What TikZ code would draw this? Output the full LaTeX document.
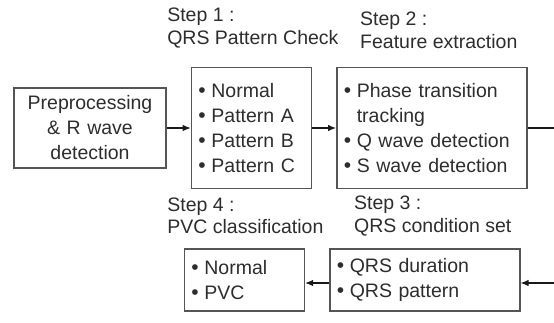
\documentclass[tikz,border=0pt]{standalone}
\usepackage{fontspec}
\setmainfont{Liberation Sans}
\usetikzlibrary{positioning, arrows.meta}
\definecolor{boxline}{RGB}{85,85,85}
\definecolor{arrowline}{RGB}{25,25,25}
\definecolor{txt}{RGB}{45,45,45}
\newcommand{\blt}{\makebox[13pt][l]{\fontsize{21}{21}\selectfont\textbullet}}
\newcommand{\hang}{\hspace*{13pt}}

\begin{document}
\begin{tikzpicture}[
    x=1pt, y=-1pt,
    box/.style={draw=boxline, line width=1.4pt, inner xsep=7pt, inner ysep=0pt, align=left, text=txt, font=\fontsize{19.5}{25}\selectfont},
    boxnarrow/.style={box, text width=106pt},
    boxwide/.style={box, text width=176pt},
    steplabel/.style={align=left, inner sep=0pt, text=txt, font=\fontsize{19.5}{22.5}\selectfont},
    flow/.style={draw=arrowline, line width=1.2pt, -{Latex[length=8pt,width=6.5pt]}}
]
\useasboundingbox (0,0) rectangle (554,322);

% ---------- Top row ----------
\node[box, align=center, text width=138pt, minimum height=80pt] (pre) at (90,128) {Preprocessing\\ \& R wave\\ detection};
\node[boxnarrow, minimum height=121pt, right=24pt of pre] (check) {\blt Normal\\ \blt Pattern A\\ \blt Pattern B\\ \blt Pattern C};
\node[boxwide, minimum height=121pt, right=24pt of check] (feature) {\blt Phase transition\\ \hang tracking\\ \blt Q wave detection\\ \blt S wave detection};

% ---------- Bottom row ----------
\node[boxwide, minimum height=62pt, below=59pt of feature, xshift=-7pt] (cond) {\blt QRS duration\\ \blt QRS pattern};
\node[boxnarrow, minimum height=62pt, left=24pt of cond] (pvc) {\blt Normal\\ \blt PVC};

% ---------- Step labels ----------
\node[steplabel, above=18.5pt of check, xshift=1.5pt] (lab1) {Step 1 :\\QRS Pattern Check};
\node[steplabel, above=18pt of feature, xshift=7pt] (lab2) {Step 2 :\\Feature extraction};
\node[steplabel, above=12pt of cond, xshift=8pt] (lab3) {Step 3 :\\QRS condition set};
\node[steplabel, above=14pt of pvc, xshift=1pt] (lab4) {Step 4 :\\PVC classification};

% ---------- Connectors ----------
\coordinate (edgetop) at (554,128);
\coordinate (edgebot) at (554,283);
\draw[flow] (pre) -- (check);
\draw[flow] (check) -- (feature);
\draw[draw=arrowline, line width=1.2pt] (feature.east) -- (edgetop);
\draw[flow] (edgebot) -- (edgebot -| cond.east);
\draw[flow] (edgebot -| cond.west) -- (edgebot -| pvc.east);

\end{tikzpicture}
\end{document}
